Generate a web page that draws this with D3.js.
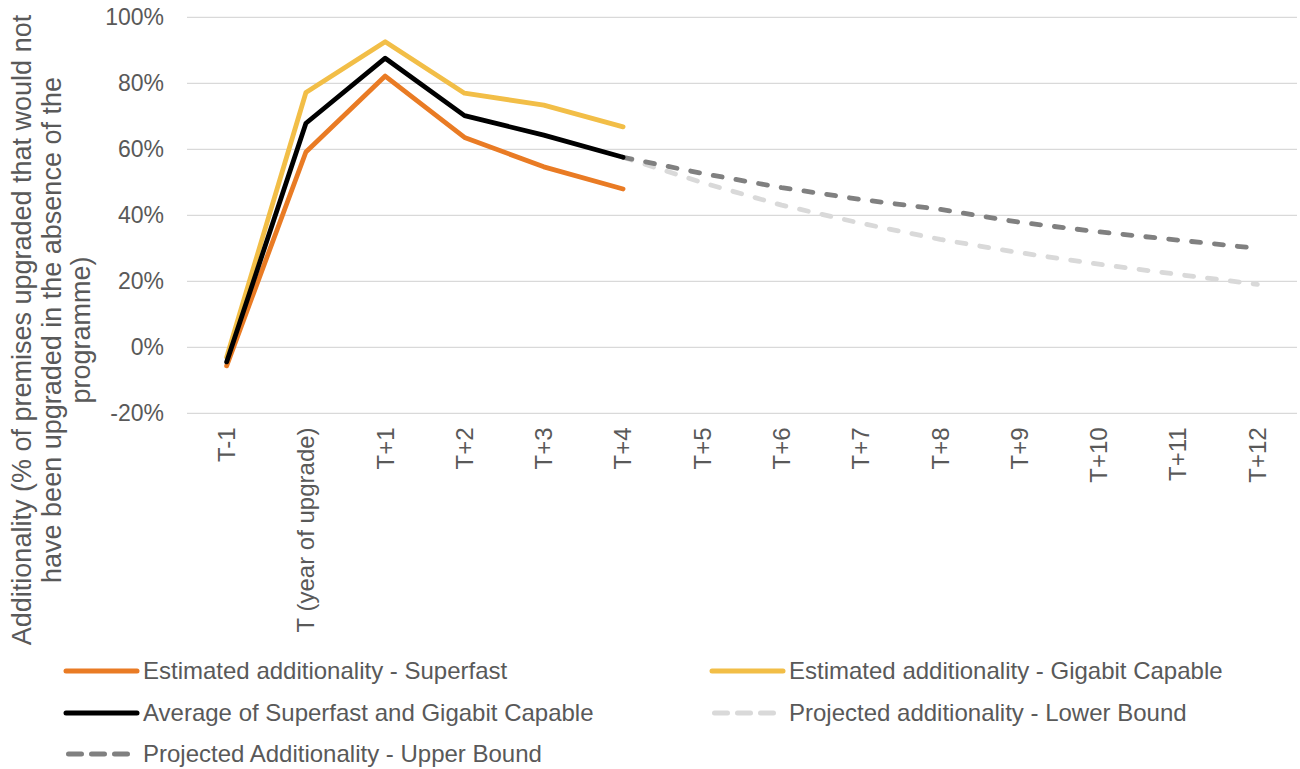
<!DOCTYPE html>
<html>
<head>
<meta charset="utf-8">
<script src="https://cdn.jsdelivr.net/npm/d3@7"></script>
<style>
  html, body { margin: 0; padding: 0; background: #fff; }
  svg { display: block; font-family: "Liberation Sans", Arial, sans-serif; }
</style>
</head>
<body>
<svg id="chart" width="1300" height="769"></svg>
<script>
// Year labels relative to the upgrade year
const categories = ["T-1", "T (year of upgrade)", "T+1", "T+2", "T+3", "T+4", "T+5", "T+6",
                    "T+7", "T+8", "T+9", "T+10", "T+11", "T+12"];

// Additionality, % of premises (null = no value for that year)
const superfast  = [-5.6, 59.2, 82.2, 63.6, 54.7, 48.0, null, null, null, null, null, null, null, null];
const gigabit    = [-3.0, 77.2, 92.6, 77.0, 73.4, 66.8, null, null, null, null, null, null, null, null];
const average    = [-4.4, 67.9, 87.6, 70.2, 64.3, 57.6, null, null, null, null, null, null, null, null];
const lowerBound = [null, null, null, null, null, 57.6, 49.9, 43.1, 37.6, 32.7, 28.7, 25.2, 22.1, 19.1];
const upperBound = [null, null, null, null, null, 57.6, 52.7, 48.4, 44.8, 41.8, 37.9, 35.0, 32.5, 30.0];

const yTicks = [-20, 0, 20, 40, 60, 80, 100];

const series = [
  { name: "Estimated additionality - Superfast",       values: superfast,  color: "#E97B24", dash: null },
  { name: "Estimated additionality - Gigabit Capable", values: gigabit,    color: "#F2BE47", dash: null },
  { name: "Projected additionality - Lower Bound",     values: lowerBound, color: "#D9D9D9", dash: "9 14" },
  { name: "Projected Additionality - Upper Bound",     values: upperBound, color: "#808080", dash: "9 14" },
  { name: "Average of Superfast and Gigabit Capable",  values: average,    color: "#000000", dash: null }
];

// Legend order, two columns
const legendOrder = [
  "Estimated additionality - Superfast",
  "Estimated additionality - Gigabit Capable",
  "Average of Superfast and Gigabit Capable",
  "Projected additionality - Lower Bound",
  "Projected Additionality - Upper Bound"
];

const svg = d3.select("#chart");
const textColor = "#595959";
const tickFont = 23;
const labelFont = 24;
const titleFont = 27;

const plot = { left: 187, right: 1297, top: 17.3, bottom: 413.4 };

const x = d3.scaleBand().domain(categories).range([plot.left, plot.right]).padding(0);
const xc = c => x(c) + x.bandwidth() / 2;
const y = d3.scaleLinear().domain([-20, 100]).range([plot.bottom, plot.top]);

// Horizontal gridlines
svg.append("g")
  .selectAll("line")
  .data(yTicks)
  .join("line")
  .attr("x1", plot.left).attr("x2", plot.right)
  .attr("y1", d => y(d)).attr("y2", d => y(d))
  .attr("stroke", "#D9D9D9").attr("stroke-width", 1.3);

// Y axis tick labels
const yAxis = svg.append("g")
  .attr("transform", `translate(${plot.left},0)`)
  .call(d3.axisLeft(y).tickValues(yTicks).tickFormat(d => d + "%").tickSize(0).tickPadding(23));
yAxis.select(".domain").remove();
yAxis.selectAll("text")
  .attr("fill", textColor)
  .style("font-size", tickFont + "px")
  .style("font-family", '"Liberation Sans", Arial, sans-serif');

// X axis category labels, rotated
const xAxis = svg.append("g")
  .attr("transform", `translate(0,${plot.bottom})`)
  .call(d3.axisBottom(x).tickSize(0).tickPadding(0));
xAxis.select(".domain").remove();
xAxis.selectAll("text")
  .attr("fill", textColor)
  .style("font-size", labelFont + "px")
  .style("font-family", '"Liberation Sans", Arial, sans-serif')
  .attr("text-anchor", "end")
  .attr("dy", "0.35em")
  .attr("transform", "translate(0,14) rotate(-90)")
  .attr("x", 0).attr("y", 0);

// Y axis title, three lines
const titleLines = [
  "Additionality (% of premises upgraded that would not",
  "have been upgraded in the absence of the",
  "programme)"
];
const title = svg.append("text")
  .attr("transform", "translate(0,330) rotate(-90)")
  .attr("text-anchor", "middle")
  .attr("fill", textColor)
  .style("font-size", titleFont + "px");
titleLines.forEach((t, i) => {
  title.append("tspan").attr("x", 0).attr("y", 31 + i * 29.5).text(t);
});

// Series lines
const line = d3.line()
  .defined(d => d.v !== null)
  .x(d => xc(d.c))
  .y(d => y(d.v));

svg.append("g")
  .selectAll("path")
  .data(series)
  .join("path")
  .attr("d", s => line(categories.map((c, i) => ({ c, v: s.values[i] }))))
  .attr("fill", "none")
  .attr("stroke", s => s.color)
  .attr("stroke-width", 4.8)
  .attr("stroke-linecap", "round")
  .attr("stroke-linejoin", "round")
  .attr("stroke-dasharray", s => s.dash);

// Legend
const legendPos = [
  { x: 66, y: 671 }, { x: 712, y: 671 },
  { x: 66, y: 713 }, { x: 712, y: 713 },
  { x: 66, y: 754 }
];
const legend = svg.append("g")
  .selectAll("g")
  .data(legendOrder.map(n => series.find(s => s.name === n)))
  .join("g")
  .attr("transform", (d, i) => `translate(${legendPos[i].x},${legendPos[i].y})`);

// Solid swatches span the full key; dashed swatches show three dashes
legend.append("line")
  .attr("x1", d => d.dash ? 2.5 : 0)
  .attr("x2", d => d.dash ? 61.5 : 71)
  .attr("y1", 0).attr("y2", 0)
  .attr("stroke", d => d.color)
  .attr("stroke-width", 5)
  .attr("stroke-linecap", "round")
  .attr("stroke-dasharray", d => d.dash ? "13 10" : null);

legend.append("text")
  .attr("x", 77).attr("y", 0).attr("dy", "0.35em")
  .attr("fill", textColor)
  .style("font-size", labelFont + "px")
  .text(d => d.name);
</script>
</body>
</html>
